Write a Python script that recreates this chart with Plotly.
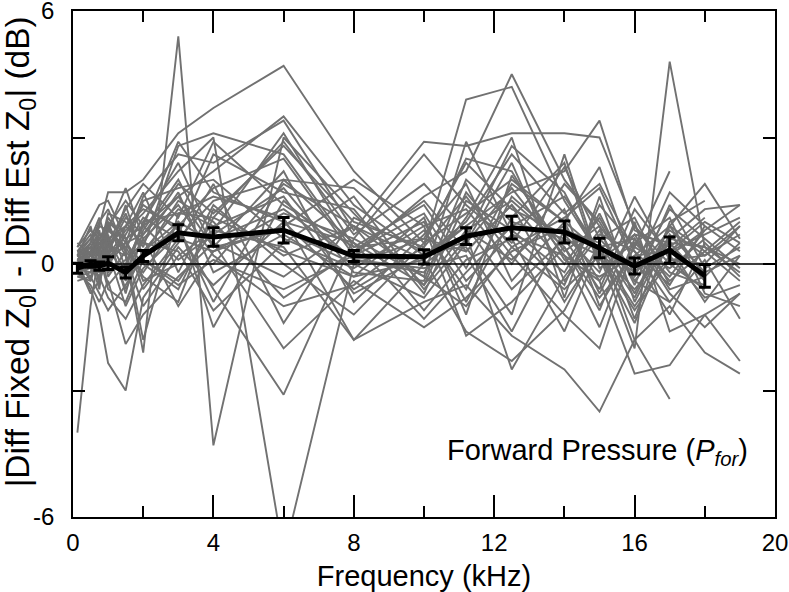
import plotly.graph_objects as go

# Frequencies (kHz) at which individual ears were measured
freq = [0.125, 0.5, 0.75, 1, 1.5, 2, 3, 4, 6, 8, 10, 11.2, 12.5, 14, 15, 16, 17, 18, 19]

# Individual ears (dB), gray lines
s01 = [0.1, 0.3, -0.2, 0.4, 0.2, -2.1, 5.4, -4.3, 3.0, 1.2, -0.5, 0.8, 1.5, 0.4, -0.8, 0.2, 0.9, -0.3, 0.5]
s02 = [0.2, 0.5, 0.9, 1.7, 1.7, 2.0, 3.1, 3.7, 4.7, 2.2, 0.5, 1.2, 2.0, 1.0, 0.3, -0.6, 0.4, 1.1, None]
s03 = [-0.1, 0.3, 0.5, 0.2, 0.8, 1.2, 2.2, 3.0, -6.9, 0.0, -0.8, 0.5, 1.8, 0.2, -1.5, 0.6, -0.4, 0.3, 1.0]
s04 = [-4.0, -1.0, 0.3, 0.8, 0.4, 1.1, 0.6, 1.5, 2.0, 0.5, -1.3, -0.2, 0.9, 1.6, 0.3, -1.0, 0.2, -0.8, -0.5]
s05 = [0.0, -0.6, -1.2, -2.35, -3.0, -0.8, 0.4, -0.5, 1.0, -0.6, 0.4, 1.6, 0.2, -1.2, -2.0, 0.5, -0.3, 0.8, None]
s06 = [0.2, 0.1, 0.4, 0.6, 0.9, 1.3, 0.9, 1.8, 2.5, 0.2, 1.6, 2.2, 4.5, 2.0, 0.9, -0.2, 0.8, 0.2, 0.7]
s07 = [-0.2, 0.2, 0.5, 0.3, 1.1, 0.7, 1.9, 1.2, 2.8, 1.0, 0.4, 3.9, 4.2, 1.5, 0.2, -1.4, 0.6, 1.3, 1.4]
s08 = [0.3, 0.6, 0.2, 1.1, 0.5, 1.6, 2.6, 2.4, 3.4, 0.8, 2.9, 2.8, 3.1, 3.1, 3.0, 0.9, 0.0, -0.6, None]
s09 = [0.0, -0.3, 0.1, 0.5, -0.4, 0.3, 1.3, 0.9, 1.6, -0.7, 0.2, 0.9, 1.7, 2.2, 3.4, 0.8, 0.4, -0.9, 0.2]
s10 = [0.1, 0.0, -0.3, -0.8, -1.3, -0.5, 0.6, 0.3, 1.2, 0.6, -0.3, -1.0, 0.4, -0.6, 0.2, -2.0, 4.8, 0.4, None]
s11 = [-0.3, -0.4, 0.2, -0.6, -0.9, 0.1, -0.4, 0.8, 0.4, -1.8, -0.9, -0.5, -1.7, -2.5, -3.5, -1.8, -1.0, -2.1, -2.6]
s12 = [0.2, 0.3, 0.6, 0.9, 0.3, -0.2, 1.0, 0.5, -0.3, 0.9, 0.1, -1.6, -2.3, -1.1, 0.5, -1.8, -3.2, None, None]
s13 = [0.4, 1.0, 1.4, 1.5, 0.6, 0.9, 1.6, 2.2, 3.5, 1.4, 0.2, 1.0, 2.6, 1.2, 1.9, 0.3, -0.5, 0.9, None]
s14 = [-0.2, -0.5, -0.9, -0.4, -1.9, -1.2, -0.3, 0.5, -2.0, -0.4, -1.5, -0.8, 0.3, 0.9, -0.4, -2.6, -2.4, -1.2, -0.7]
s15 = [0.3, 0.7, 0.3, 1.2, 1.0, 0.4, 2.8, 3.1, 2.6, 0.3, 1.2, -0.4, 0.7, -0.5, 1.4, 0.4, 2.2, None, None]
s16 = [-0.1, -0.2, 0.4, 0.0, 0.7, 1.4, 0.8, -0.6, -3.1, 0.6, 2.6, 1.4, 0.5, 2.3, 0.6, -0.3, 1.3, 0.6, -0.1]
s17 = [0.0, 0.4, -0.5, 0.6, -0.2, 0.6, -1.0, 0.3, 0.9, 2.0, 0.9, -1.7, -0.9, 0.4, -1.1, 1.0, -1.6, -1.2, -2.3]
s18 = [0.1, -0.1, 0.8, -0.3, 0.3, -1.8, 1.2, 1.6, 1.1, -1.8, 0.0, 0.7, -2.5, -0.3, 0.8, -0.7, 0.9, 1.9, 0.6]
s19 = [0.5, 0.2, 0.0, 0.9, 1.5, 0.9, 0.1, 0.7, 1.8, -0.2, -0.4, 2.0, 1.0, 0.6, -0.6, 1.3, 0.2, 0.8, 1.4]
s20 = [-0.4, -0.3, -0.7, -1.1, -0.5, 0.2, 1.5, 1.0, -0.8, 0.3, 1.5, 0.3, 1.4, 0.0, 1.1, -0.4, -0.9, 0.1, -1.3]
s21 = [0.2, 0.6, 1.1, 0.4, 0.9, 0.5, 0.3, -1.1, 0.5, 1.6, -0.6, 0.6, 2.8, 1.7, 0.1, 0.7, 0.5, -0.4, None]
s22 = [-0.1, 0.1, -0.2, 0.7, -0.7, 0.8, 2.0, 0.4, 2.2, -0.9, 0.7, 1.9, -0.4, 1.0, 2.3, -0.1, 1.7, 0.9, 0.3]
s23 = [0.0, -0.7, -0.4, 0.2, 0.4, -0.3, -0.9, 1.3, 0.2, 0.9, -1.1, 0.1, 0.6, -1.6, 0.4, 0.6, -0.7, -1.5, -0.7]
s24 = [0.3, 0.4, 0.7, 0.5, 1.3, 1.9, 1.1, 2.9, 1.4, 0.4, 0.6, 2.4, 1.3, 0.7, -0.2, 1.6, 0.1, 0.0, 0.9]
s25 = [-0.2, 0.0, 0.3, -0.2, 0.1, 0.5, 1.7, -0.2, 0.7, -0.3, 1.1, -1.2, 2.1, 0.3, 0.9, -1.3, 1.0, 1.5, None]
s26 = [0.1, 0.5, -0.1, 1.0, 0.6, -0.6, 0.5, 1.9, -1.4, 1.1, 0.3, 0.4, -1.2, 2.6, 0.0, 0.1, -1.2, 0.5, -0.3]
s27 = [0.4, 0.8, 0.6, 0.1, -0.3, 1.0, 2.4, 0.6, 1.3, 0.1, -0.2, 1.1, 3.0, -0.8, 1.6, -0.9, 0.7, -0.2, 0.2]
s28 = [-0.3, -0.2, 0.1, 0.3, 0.5, 0.0, -0.6, 1.1, 2.9, 0.7, 1.9, 0.8, 0.1, 1.3, -1.0, 0.4, -0.1, 0.6, None]
s29 = [0.0, 0.2, 0.9, 0.8, 1.8, 0.6, 1.4, 0.2, -1.0, -0.5, 0.8, -0.6, 1.6, 0.5, 0.6, 1.1, -0.5, None, None]
s30 = [0.2, -0.1, -0.3, 0.3, -1.0, -0.1, 0.7, 2.6, 1.7, 1.3, -0.7, 1.5, 0.8, -0.2, 1.2, -0.5, 1.4, -0.1, 0.4]
s31 = [-0.1, 0.3, 0.2, -0.1, 0.9, 1.7, -0.2, 1.4, 0.0, -1.2, 0.5, 2.5, 2.2, 0.1, -0.3, 0.2, 0.3, 0.7, 1.1]
s32 = [0.1, -0.4, 0.5, 0.6, -0.6, 0.3, 1.0, -1.5, 1.5, 0.1, -0.1, 0.2, -1.6, 0.8, 0.5, -0.8, 0.9, 0.3, -0.4]
s33 = [0.3, 0.1, -0.6, 0.9, 0.2, -1.0, 0.2, 0.8, 3.1, 0.4, 1.4, -0.1, 1.9, 1.0, -0.7, 0.9, -0.2, -0.5, None]
s34 = [0.0, 0.5, 1.0, 1.3, 0.3, 1.5, 1.8, 2.0, 0.6, -0.1, 0.9, 1.3, 0.0, 1.9, 1.0, -0.4, 0.6, 0.4, 0.0]
s35 = [-0.2, -0.1, 0.0, 0.4, 1.2, 0.2, 0.9, -0.9, 2.0, 1.8, 0.3, 0.5, 2.4, -0.4, 0.7, 0.3, -0.9, None, None]
s36 = [0.1, 0.2, 0.4, -0.5, 0.0, 0.9, 2.9, 1.7, 1.0, 0.5, -0.5, 1.7, 0.4, 1.1, 1.8, 0.0, 0.3, 1.0, 0.5]
s37 = [0.2, 0.9, 0.1, 0.2, 1.4, 0.1, -0.5, 0.1, -0.6, 0.2, 1.0, -0.9, 1.1, 2.4, -0.1, 0.5, 1.1, -0.7, -1.0]
s38 = [-0.1, 0.0, 0.6, 1.0, -0.1, 1.0, 1.2, 1.1, 0.3, -0.3, 0.1, 0.9, -0.6, 0.6, 0.2, -1.1, 0.1, 0.2, 0.9]
s39 = [0.0, 0.3, -0.4, 0.8, 0.6, -0.4, 0.0, 0.0, 1.9, 0.9, -0.3, 2.9, 0.7, 0.2, -0.4, 0.7, -0.6, -0.3, None]
s40 = [0.2, 0.4, 0.2, 0.0, 0.5, 0.7, 1.6, 0.4, 0.8, 0.0, 0.6, 0.3, 1.4, -0.9, 0.4, -0.2, 0.5, 0.4, -0.2]

ears = [s01, s02, s03, s04, s05, s06, s07, s08, s09, s10,
        s11, s12, s13, s14, s15, s16, s17, s18, s19, s20,
        s21, s22, s23, s24, s25, s26, s27, s28, s29, s30,
        s31, s32, s33, s34, s35, s36, s37, s38, s39, s40]

# Mean across ears with standard error
mean_freq = [0.125, 0.5, 0.75, 1, 1.5, 2, 3, 4, 6, 8, 10, 11.2, 12.5, 14, 15, 16, 17, 18]
mean_val = [-0.1, 0.0, -0.05, 0.02, -0.2, 0.19, 0.74, 0.64, 0.8, 0.19, 0.17, 0.66, 0.86, 0.76, 0.38, -0.05, 0.33, -0.28]
mean_err = [0.12, 0.08, 0.1, 0.15, 0.13, 0.13, 0.19, 0.22, 0.3, 0.13, 0.17, 0.2, 0.27, 0.26, 0.23, 0.19, 0.31, 0.27]

x_ticks = [0, 4, 8, 12, 16, 20]
x_minor = [2, 6, 10, 14, 18]
y_ticks = [-6, -3, 0, 3, 6]
y_ticktext = ["-6", "", "0", "", "6"]

FONT = "Liberation Sans, Arial, sans-serif"
GRAY = "#717171"

fig = go.Figure()
for s in ears:
    fig.add_trace(go.Scatter(x=freq, y=s, mode="lines",
                             line=dict(color=GRAY, width=1.9),
                             connectgaps=False, showlegend=False, hoverinfo="skip"))

fig.add_trace(go.Scatter(x=mean_freq, y=mean_val, mode="lines",
                         line=dict(color="black", width=5),
                         error_y=dict(type="data", array=mean_err, visible=True,
                                      color="black", thickness=3, width=6),
                         showlegend=False))

fig.add_shape(type="line", xref="paper", x0=0, x1=1, yref="y", y0=0, y1=0,
              line=dict(color="black", width=1.3), layer="above")

fig.add_annotation(x=19.3, y=-4.45, xref="x", yref="y", xanchor="right", yanchor="middle",
                   text="Forward Pressure (<i>P</i><sub><i>for</i></sub>)",
                   showarrow=False, font=dict(family=FONT, size=29, color="black"))

fig.add_annotation(x=-0.0755, y=0.525, xref="paper", yref="paper",
                   xanchor="center", yanchor="middle", textangle=-90,
                   text="|Diff Fixed Z<sub>0</sub>| - |Diff Est Z<sub>0</sub>| (dB)",
                   showarrow=False, font=dict(family=FONT, size=33.5, color="black"))

fig.update_layout(
    width=789, height=592,
    margin=dict(l=73, r=14, t=11, b=75, autoexpand=False),
    plot_bgcolor="white", paper_bgcolor="white",
    font=dict(family=FONT, color="black"),
    xaxis=dict(range=[0, 20], tickvals=x_ticks, ticks="inside", ticklen=22, tickwidth=1.5,
               tickcolor="black", showline=True, linecolor="black", linewidth=1.5,
               mirror="ticks", showgrid=False, zeroline=False, automargin=False,
               ticklabeloverflow="allow", ticklabelstandoff=3,
               minor=dict(tickvals=x_minor, ticks="inside", ticklen=11,
                          tickwidth=1.5, tickcolor="black", showgrid=False),
               tickfont=dict(size=24, family=FONT),
               title=dict(text="Frequency (kHz)", font=dict(size=29, family=FONT), standoff=13)),
    yaxis=dict(range=[-6, 6], tickvals=y_ticks, ticktext=y_ticktext, ticks="inside", ticklen=12,
               tickwidth=1.5, tickcolor="black", showline=True, linecolor="black", linewidth=1.5,
               mirror="ticks", showgrid=False, zeroline=False, automargin=False,
               ticklabeloverflow="allow", ticklabelstandoff=12,
               tickfont=dict(size=24, family=FONT)),
)

fig.write_html("out.html", config={"displayModeBar": False},
               post_script="document.body.style.margin='0';document.body.style.padding='0';"
                           "document.documentElement.style.overflow='hidden';")
